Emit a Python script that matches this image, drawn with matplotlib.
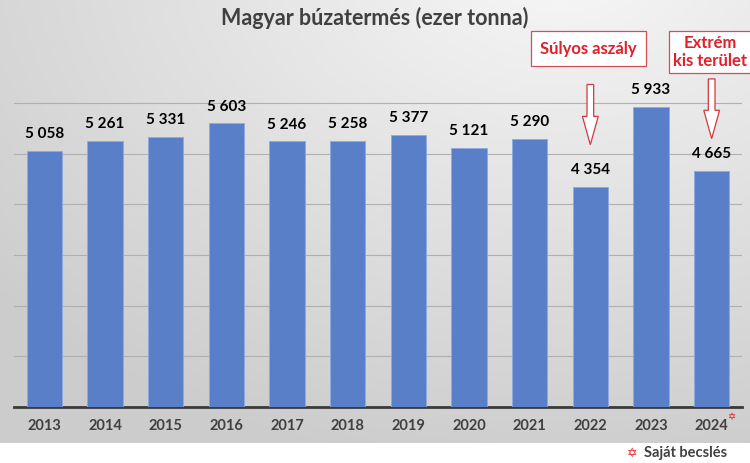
"""Magyar búzatermés 2013-2024 oszlopdiagram."""

import matplotlib
matplotlib.use("Agg")
import matplotlib.pyplot as plt
import numpy as np
from matplotlib.patches import FancyArrow

# --- adatok -------------------------------------------------------------
years = ["2013", "2014", "2015", "2016", "2017", "2018",
         "2019", "2020", "2021", "2022", "2023", "2024"]
harvest = [5058, 5261, 5331, 5603, 5246, 5258, 5377, 5121, 5290, 4354, 5933, 4665]
labels = ["5 058", "5 261", "5 331", "5 603", "5 246", "5 258",
          "5 377", "5 121", "5 290", "4 354", "5 933", "4 665"]
notes = {"2022": "Súlyos aszály", "2024": "Extrém\nkis terület"}

BLUE = "#5a7fc9"
RED = "#e0202a"
DARK = "#404040"
plt.rcParams["font.family"] = ["Lato", "DejaVu Sans"]

fig = plt.figure(figsize=(7.5, 4.63), dpi=100)

# gradient background (light top-right -> grey left/bottom), white strip at bottom
bg = fig.add_axes([0, 0, 1, 1], zorder=-10)
h, w = 463, 750
yy, xx = np.mgrid[0:h, 0:w]
d = np.sqrt(((xx - 560) / 750) ** 2 + ((yy + 40) / 520) ** 2)
shade = np.clip(0.97 - 0.17 * d, 0.80, 0.97)
shade[yy > 442] = 1.0
bg.imshow(np.dstack([shade] * 3), aspect="auto", extent=[0, w, h, 0])
bg.set_axis_off()

ax = fig.add_axes([14 / 750, 56 / 463, 728 / 750, 377 / 463])
ax.patch.set_alpha(0)
x = np.arange(len(years))
ax.bar(x, harvest, width=0.58, color=BLUE, edgecolor="#8eaadd", linewidth=0.6, zorder=3)
ax.set_xlim(-0.5, len(years) - 0.5)
ax.set_ylim(0, 7446)
ax.set_yticks(np.arange(0, 7000, 1000))
ax.yaxis.grid(True, color="#b0b0b0", linewidth=0.8, zorder=0)
ax.tick_params(axis="y", left=False, labelleft=False)
ax.tick_params(axis="x", length=0, pad=9)
ax.set_xticks(x, years, fontsize=10.5, fontweight="bold", color=DARK)
for s in ("top", "right", "left"):
    ax.spines[s].set_visible(False)
ax.spines["bottom"].set_color("#3a3a3a")
ax.spines["bottom"].set_linewidth(2)

for xi, v, lab in zip(x, harvest, labels):
    ax.annotate(lab, (xi, v), xytext=(0, 7), textcoords="offset points",
                ha="center", va="bottom", fontsize=11, fontweight="bold", color="black")

# annotation boxes + hollow arrows
for yr, txt in notes.items():
    i = years.index(yr)
    top = 6370 if yr == "2022" else 6480
    bot = 5180 if yr == "2022" else 5300
    arr = FancyArrow(i, top, 0, bot - top, width=0.11, head_width=0.26,
                     head_length=560, length_includes_head=True,
                     facecolor="white", edgecolor="#d03a40", linewidth=0.9,
                     clip_on=False, zorder=4)
    ax.add_patch(arr)
    if yr == "2022":
        ax.text(i - 0.03, 7080, txt, ha="center", va="center",
                fontsize=12, fontweight="bold", color=RED,
                bbox=dict(boxstyle="square,pad=0.55", facecolor="white",
                          edgecolor="#d05058", linewidth=0.9),
                clip_on=False, zorder=5)
    else:
        ax.text(i - 0.02, 7010, txt, ha="center", va="center",
                fontsize=12, fontweight="bold", color=RED, linespacing=1.15,
                bbox=dict(boxstyle="square,pad=0.25", facecolor="white",
                          edgecolor="#d05058", linewidth=0.9),
                clip_on=False, zorder=5)

# star after 2024 and footnote
fig.text(731 / 750, 1 - 417 / 463, "✡", color=RED, fontsize=7,
         family=["DejaVu Sans"], ha="center", va="center")
fig.text(632 / 750, 1 - 453 / 463, "✡", color=RED, fontsize=9,
         family=["DejaVu Sans"], ha="center", va="center")
fig.text(644 / 750, 1 - 453 / 463, "Saját becslés", color=DARK, fontsize=10.5,
         fontweight="bold", ha="left", va="center")

fig.text(0.5, 1 - 18 / 463, "Magyar búzatermés (ezer tonna)", ha="center",
         va="center", fontsize=15.5, fontweight="bold", color=DARK)

fig.savefig("out.png", dpi=100)
